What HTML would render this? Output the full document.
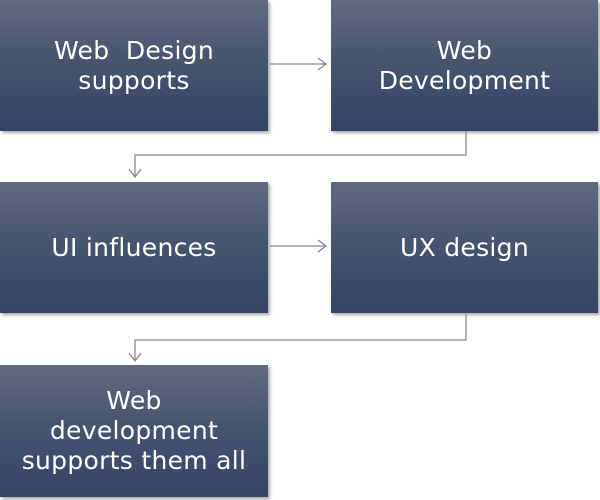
<!DOCTYPE html>
<html><head><style>
body{margin:0;width:600px;height:500px;background:#fff;position:relative;overflow:hidden;font-family:"DejaVu Sans","Liberation Sans",sans-serif}
.b{position:absolute;width:268px;height:131px;background:linear-gradient(#5f6b80,#47556f 45%,#344465);box-shadow:2px 2px 3px rgba(0,0,0,.35);color:#fff;font-size:25px;line-height:30px;display:flex;align-items:center;justify-content:center;text-align:center;letter-spacing:0.3px}
svg{position:absolute;left:0;top:0}
</style></head><body>
<div class="b" style="left:0;top:0">Web&nbsp; Design<br>supports</div>
<div class="b" style="left:331px;top:0;width:267px">Web<br>Development</div>
<div class="b" style="left:0;top:182px">UI influences</div>
<div class="b" style="left:331px;top:182px;width:267px">UX design</div>
<div class="b" style="left:0;top:365px;height:132px">Web<br>development<br>supports them all</div>
<svg width="600" height="500" fill="none" stroke="#888" stroke-width="1.3">
<path d="M270 64H326M318 58L326 64L318 70"/>
<path d="M466 131V155H135V177M129 169L135 177L141 169"/>
<path d="M270 246H326M318 240L326 246L318 252"/>
<path d="M466 314V340H135V361M129 353L135 361L141 353"/>
</svg>
</body></html>
